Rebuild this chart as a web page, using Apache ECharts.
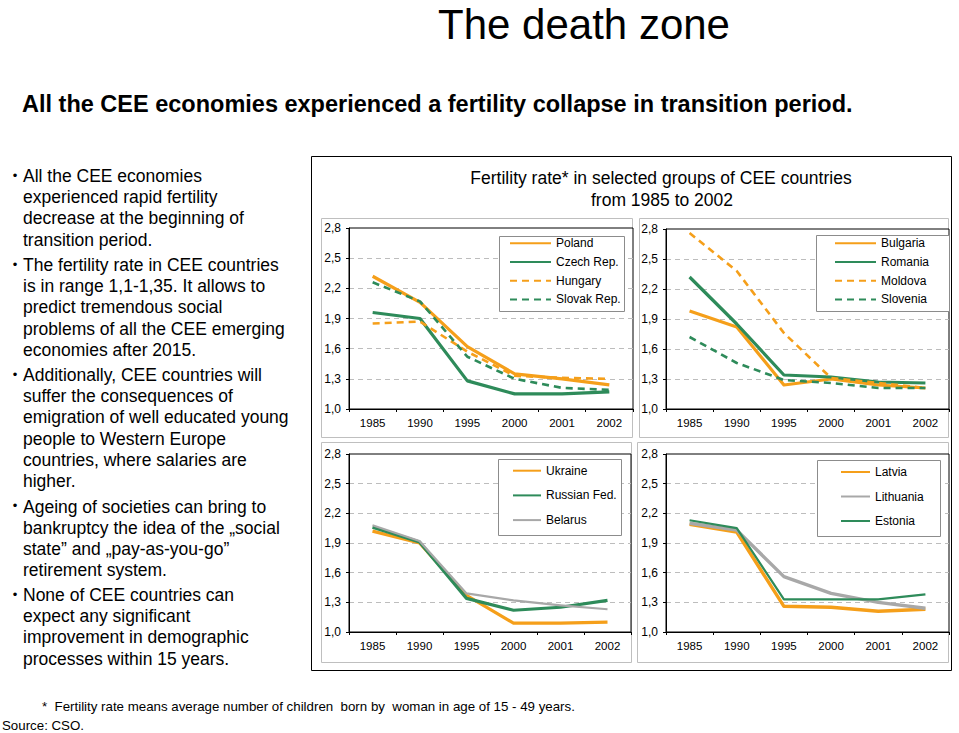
<!DOCTYPE html>
<html><head><meta charset="utf-8">
<script src="https://cdn.jsdelivr.net/npm/echarts@6/dist/echarts.min.js"></script>
<style>html,body{margin:0;padding:0;background:#fff;}#c{width:959px;height:733px;}</style>
</head><body><div id="c"></div>
<script>
// ---- data ----
const years = ['1985', '1990', '1995', '2000', '2001', '2002'];
const yTickValues = [1.0, 1.3, 1.6, 1.9, 2.2, 2.5, 2.8];
const yTickLabels = ['1,0', '1,3', '1,6', '1,9', '2,2', '2,5', '2,8'];

const poland   = [2.32, 2.06, 1.62, 1.35, 1.30, 1.24];
const czech    = [1.96, 1.90, 1.28, 1.15, 1.15, 1.17];
const hungary  = [1.85, 1.87, 1.57, 1.33, 1.31, 1.30];
const slovak   = [2.26, 2.07, 1.52, 1.30, 1.21, 1.19];

const bulgaria = [1.98, 1.82, 1.24, 1.30, 1.24, 1.21];
const romania  = [2.32, 1.85, 1.34, 1.32, 1.27, 1.26];
const moldova  = [2.76, 2.38, 1.76, 1.31, 1.26, 1.21];
const slovenia = [1.72, 1.46, 1.29, 1.26, 1.21, 1.21];

const ukraine  = [2.02, 1.90, 1.37, 1.09, 1.09, 1.10];
const russia   = [2.06, 1.91, 1.34, 1.22, 1.25, 1.32];
const belarus  = [2.08, 1.92, 1.39, 1.32, 1.27, 1.23];

const latvia    = [2.09, 2.01, 1.26, 1.25, 1.21, 1.23];
const lithuania = [2.10, 2.03, 1.56, 1.39, 1.30, 1.24];
const estonia   = [2.13, 2.05, 1.33, 1.33, 1.33, 1.38];

const mainTitle = 'The death zone';
const subTitle = 'All the CEE economies experienced a fertility collapse in transition period.';
const chartTitle1 = 'Fertility rate* in selected groups of CEE countries';
const chartTitle2 = 'from 1985 to 2002';
const bullets = [
  ['All the CEE economies', 'experienced rapid fertility', 'decrease at the beginning of', 'transition period.'],
  ['The fertility rate in CEE countries', 'is in range 1,1-1,35. It allows to', 'predict tremendous social', 'problems of all the CEE emerging', 'economies after 2015.'],
  ['Additionally, CEE countries will', 'suffer the consequences of', 'emigration of well educated young', 'people to Western Europe', 'countries, where salaries are', 'higher.'],
  ['Ageing of societies can bring to', 'bankruptcy the idea of the \u201Esocial', 'state\u201D and \u201Epay-as-you-go\u201D', 'retirement system.'],
  ['None of CEE countries can', 'expect any significant', 'improvement in demographic', 'processes within 15 years.']
];
const footnote = '*  Fertility rate means average number of children  born by  woman in age of 15 - 49 years.';
const source = 'Source: CSO.';

// ---- style ----
const FONT = '"Liberation Sans", Arial, Helvetica, sans-serif';
const ORANGE = '#F59F1A';
const GREEN = '#2E8B5A';
const GREY = '#A8A8A8';

const grids = [
  {left: 349, top: 228, width: 284, height: 181},
  {left: 666, top: 229, width: 283, height: 180},
  {left: 349, top: 454, width: 282, height: 178},
  {left: 666, top: 454, width: 283, height: 178}
];

function mkSeries(name, data, gi, color, width, dashed) {
  return {
    name: name, type: 'line', data: data,
    xAxisIndex: gi, yAxisIndex: gi,
    symbol: 'none', showSymbol: false,
    lineStyle: {color: color, width: width, type: dashed ? [7, 5] : 'solid', cap: 'butt', join: 'round'},
    itemStyle: {color: color},
    emphasis: {disabled: true},
    animation: false
  };
}

const series = [
  mkSeries('Poland', poland, 0, ORANGE, 3.2, false),
  mkSeries('Czech Rep.', czech, 0, GREEN, 3.2, false),
  mkSeries('Hungary', hungary, 0, ORANGE, 2.6, true),
  mkSeries('Slovak Rep.', slovak, 0, GREEN, 2.6, true),
  mkSeries('Bulgaria', bulgaria, 1, ORANGE, 3.2, false),
  mkSeries('Romania', romania, 1, GREEN, 3.2, false),
  mkSeries('Moldova', moldova, 1, ORANGE, 2.6, true),
  mkSeries('Slovenia', slovenia, 1, GREEN, 2.6, true),
  mkSeries('Ukraine', ukraine, 2, ORANGE, 3.2, false),
  mkSeries('Russian Fed.', russia, 2, GREEN, 3.2, false),
  mkSeries('Belarus', belarus, 2, GREY, 2.2, false),
  mkSeries('Latvia', latvia, 3, ORANGE, 3.4, false),
  mkSeries('Lithuania', lithuania, 3, GREY, 3.4, false),
  mkSeries('Estonia', estonia, 3, GREEN, 2.2, false)
];

function yLabel(v) {
  for (let i = 0; i < yTickValues.length; i++) {
    if (Math.abs(v - yTickValues[i]) < 1e-6) return yTickLabels[i];
  }
  return '';
}

const xAxes = grids.map((g, i) => ({
  type: 'category', gridIndex: i, data: years, boundaryGap: true,
  axisLine: {show: true, lineStyle: {color: '#000', width: 1}},
  axisTick: {show: true, length: 3, lineStyle: {color: '#000'}},
  axisLabel: {color: '#000', fontSize: 11.5, fontFamily: FONT, margin: 8, interval: 0},
  splitLine: {show: false}
}));
const yAxes = grids.map((g, i) => ({
  type: 'value', gridIndex: i, min: yTickValues[0], max: yTickValues[yTickValues.length - 1], interval: 0.3,
  axisLine: {show: true, lineStyle: {color: '#000', width: 1}},
  axisTick: {show: true, length: 3, lineStyle: {color: '#000'}},
  axisLabel: {color: '#000', fontSize: 12, fontFamily: FONT, margin: 8, formatter: yLabel},
  splitLine: {show: true, showMinLine: false, showMaxLine: false, lineStyle: {color: '#bdbdbd', type: [5, 4], width: 1}}
}));

function mkLegend(names, left, top, itemWidth, gap) {
  return {
    data: names, orient: 'vertical', left: left, top: top, padding: 0,
    itemWidth: itemWidth, itemHeight: 12, itemGap: gap, selectedMode: false,
    itemStyle: {opacity: 0, borderWidth: 0},
    textStyle: {color: '#000', fontSize: 12, fontFamily: FONT}, z: 10
  };
}
const legends = [
  mkLegend(['Poland', 'Czech Rep.', 'Hungary', 'Slovak Rep.'], 509, 237.3, 41, 6.7),
  mkLegend(['Bulgaria', 'Romania', 'Moldova', 'Slovenia'], 834, 237.3, 41, 6.7),
  mkLegend(['Ukraine', 'Russian Fed.', 'Belarus'], 512, 464.7, 28, 12.7),
  mkLegend(['Latvia', 'Lithuania', 'Estonia'], 840, 466, 29, 12.5)
];

function rect(x, y, w, h, stroke, fill, z) {
  return {type: 'rect', shape: {x: x, y: y, width: w, height: h}, z: z, silent: true,
    style: {stroke: stroke, fill: fill, lineWidth: 1}};
}
function txt(x, y, text, size, opts) {
  opts = opts || {};
  const st = {text: text, fontSize: size, fontFamily: FONT, fontWeight: opts.bold ? 'bold' : 'normal',
      fill: '#000', align: opts.align || 'left', verticalAlign: 'middle'};
  if (opts.lineHeight) st.lineHeight = opts.lineHeight;
  return {type: 'text', x: x, y: y, z: 20, silent: true, style: st};
}

const graphics = [];
// frame and panel boxes
graphics.push(rect(311.5, 156.5, 640, 514, '#000', 'rgba(0,0,0,0)', -5));
graphics.push(rect(321.5, 218.5, 311, 219, '#bfbfbf', 'rgba(0,0,0,0)', -5));
graphics.push(rect(639.5, 218.5, 309, 219, '#bfbfbf', 'rgba(0,0,0,0)', -5));
graphics.push(rect(321.5, 442.5, 310, 220, '#bfbfbf', 'rgba(0,0,0,0)', -5));
graphics.push(rect(637.5, 442.5, 311, 220, '#bfbfbf', 'rgba(0,0,0,0)', -5));
// legend boxes
graphics.push(rect(499.5, 236.5, 125, 75, '#8c8c8c', '#fff', 5));
graphics.push(rect(816.5, 235.5, 133, 76, '#8c8c8c', '#fff', 5));
graphics.push(rect(498.5, 459.5, 123, 76, '#8c8c8c', '#fff', 5));
graphics.push(rect(817.5, 460.5, 123, 76, '#8c8c8c', '#fff', 5));
// titles
graphics.push(txt(584, 24, mainTitle, 42, {align: 'center'}));
graphics.push(txt(22, 104, subTitle, 23.5, {bold: true}));
graphics.push(txt(661, 178, chartTitle1, 17.5, {align: 'center'}));
graphics.push(txt(662, 200, chartTitle2, 17.5, {align: 'center'}));
// bullets
const bulletStarts = [176, 265, 375, 506.7, 595];
bullets.forEach((lines, bi) => {
  graphics.push(txt(15, bulletStarts[bi] - 1, '\u2022', 13, {align: 'center'}));
  lines.forEach((ln, li) => {
    graphics.push(txt(23, bulletStarts[bi] + li * 21.2, ln, 17.5));
  });
});
graphics.push(txt(42, 706, footnote, 13.3));
graphics.push(txt(2, 725, source, 13.3));

const chart = echarts.init(document.getElementById('c'), null, {renderer: 'svg'});
chart.setOption({
  animation: false,
  backgroundColor: '#fff',
  grid: grids.map(g => Object.assign({show: true, borderColor: '#000', borderWidth: 1, backgroundColor: '#fff', containLabel: false, outerBoundsMode: 'none'}, g)),
  xAxis: xAxes,
  yAxis: yAxes,
  legend: legends,
  series: series,
  graphic: {elements: graphics}
});
</script>
</body></html>
